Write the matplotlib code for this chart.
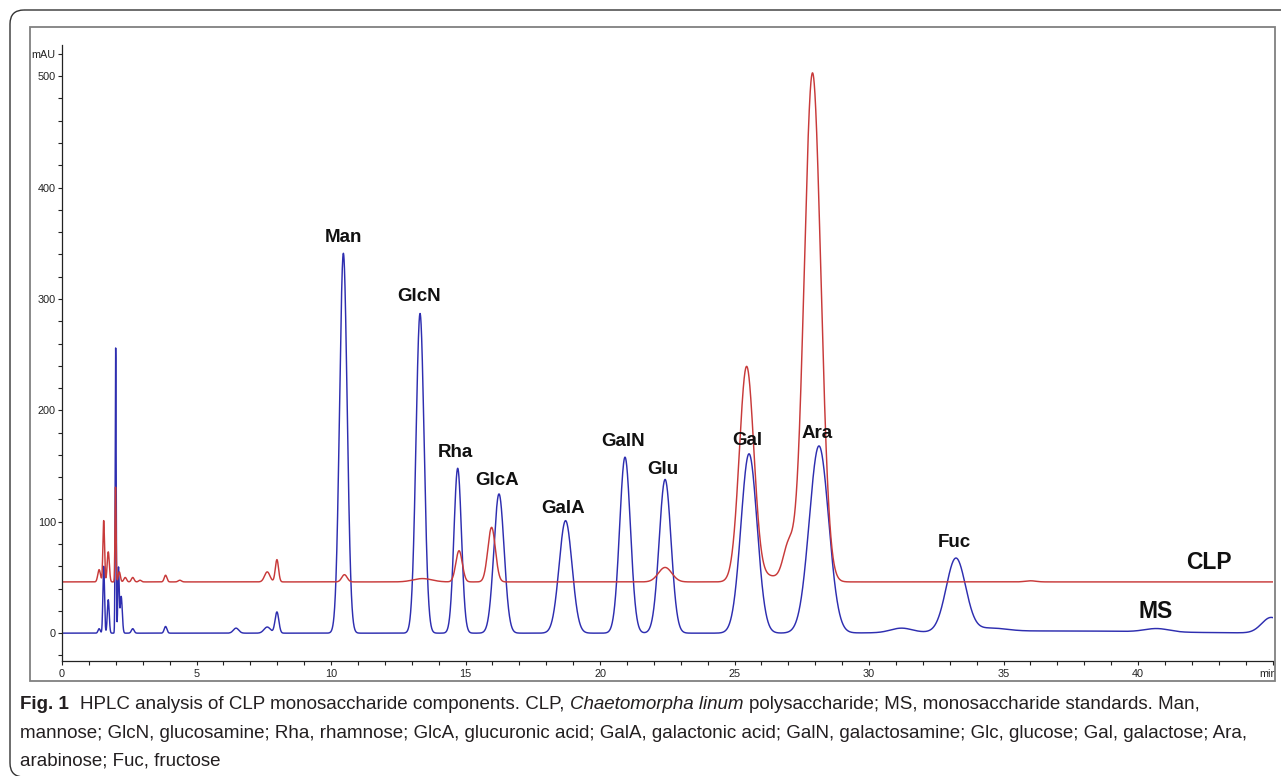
import numpy as np
import matplotlib
matplotlib.use('Agg')
import matplotlib.pyplot as plt
from matplotlib import font_manager
from matplotlib.patches import Rectangle, FancyBboxPatch
from matplotlib.transforms import Affine2D, ScaledTranslation

W, H = 1281, 776

# ---------------- data (peak tables) ----------------
# MS (monosaccharide standards) trace: retention time (min), height (mAU), width sigma (min)
ms_rt     = [1.38, 1.55, 1.72, 1.995, 2.10, 2.20, 2.63, 3.85, 6.47, 7.63, 7.99,
             10.46, 13.31, 14.71, 16.245, 18.72, 20.93, 22.42, 25.54, 28.14,
             31.2, 33.23, 34.5, 37.0, 40.7, 44.95]
ms_height = [4, 60, 30, 256, 58, 33, 4, 6, 4.5, 5.5, 19,
             341, 287, 148, 125, 101, 158, 138, 161, 168,
             4, 66, 3, 2, 3, 14]
ms_sigma  = [0.04, 0.03, 0.035, 0.018, 0.025, 0.04, 0.05, 0.05, 0.10, 0.12, 0.07,
             0.14, 0.15, 0.14, 0.19, 0.24, 0.20, 0.22, 0.30, 0.36,
             0.40, 0.36, 0.6, 3.5, 0.45, 0.35]
ms_baseline = 0.0

# CLP (Chaetomorpha linum polysaccharide) trace
clp_rt     = [1.38, 1.55, 1.72, 1.99, 2.13, 2.35, 2.63, 2.9, 3.85, 4.38, 7.63, 7.99,
              10.5, 13.4, 14.76, 15.97, 22.42, 25.45, 26.3, 27.0, 27.9, 36.0]
clp_height = [11, 55, 27, 85, 9, 4, 4, 1.5, 6, 1.5, 9, 20,
              6.5, 3, 28, 49, 13, 193, 5, 30, 457, 1]
clp_sigma  = [0.05, 0.03, 0.04, 0.02, 0.04, 0.05, 0.05, 0.05, 0.05, 0.06, 0.10, 0.06,
              0.10, 0.35, 0.12, 0.14, 0.25, 0.27, 0.40, 0.20, 0.31, 0.2]
clp_baseline = 46.0

# peak labels (name, retention time, label height in mAU)
label_names = ['Man', 'GlcN', 'Rha', 'GlcA', 'GalA', 'GalN', 'Glu', 'Gal', 'Ara', 'Fuc']
label_x     = [10.46, 13.28, 14.63, 16.16, 18.64, 20.87, 22.33, 25.49, 28.06, 33.16]
label_y     = [355, 302, 162, 137, 112, 172, 147, 173, 179, 81]

trace_names = ['CLP', 'MS']
trace_lab_x = [42.64, 40.65]
trace_lab_y = [63, 19]

x_ticks_major = [0, 5, 10, 15, 20, 25, 30, 35, 40, 45]
x_tick_labels = ['0', '5', '10', '15', '20', '25', '30', '35', '40', 'min']
y_ticks_major = [0, 100, 200, 300, 400, 500, 520]
y_tick_labels = ['0', '100', '200', '300', '400', '500', 'mAU']

caption_l1 = [("Fig. 1", 'bold'),
              ("HPLC analysis of CLP monosaccharide components. CLP,", 'normal'),
              ("Chaetomorpha linum", 'italic'),
              ("polysaccharide; MS, monosaccharide standards. Man,", 'normal')]
caption_l2 = ("mannose; GlcN, glucosamine; Rha, rhamnose; GlcA, glucuronic acid; GalA, "
              "galactonic acid; GalN, galactosamine; Glc, glucose; Gal, galactose; Ara,")
caption_l3 = "arabinose; Fuc, fructose"

# ---------------- build traces from peak tables ----------------
t = np.linspace(0, 45, 9001)

def trace(base, rts, hs, sg):
    y = np.full_like(t, base)
    for r, h, s in zip(rts, hs, sg):
        y += h * np.exp(-0.5 * ((t - r) / s) ** 2)
    return y

ms_y = trace(ms_baseline, ms_rt, ms_height, ms_sigma)
clp_y = trace(clp_baseline, clp_rt, clp_height, clp_sigma)

# ---------------- fonts ----------------
avail = {f.name for f in font_manager.fontManager.ttflist}
narrow = 'Liberation Sans Narrow' if 'Liberation Sans Narrow' in avail else 'Liberation Sans'
sans = 'Liberation Sans' if 'Liberation Sans' in avail else 'DejaVu Sans'

fig = plt.figure(figsize=(W / 100, H / 100), dpi=100)
fig.patch.set_facecolor('white')
pxT = Affine2D().scale(1.0 / W, -1.0 / H).translate(0, 1) + fig.transFigure

# outer rounded frame
outer = FancyBboxPatch((10, 10), 1300, 767, boxstyle="round,pad=0,rounding_size=14",
                       transform=pxT, fill=False, edgecolor='#333333', lw=1.0)
fig.patches.append(outer)
# inner chart frame
inner = Rectangle((30, 27), 1245, 654, transform=pxT, fill=False,
                  edgecolor='#808080', lw=1.3)
fig.patches.append(inner)

ax = fig.add_axes([62 / W, 1 - 661 / H, (1272.5 - 62) / W, (661 - 45) / H])
ax.set_xlim(0, 45)
ax.set_ylim(-25, 528)
ax.patch.set_alpha(0)

ax.plot(t, ms_y, color='#2e2eb0', lw=1.05)
ax.plot(t, clp_y, color='#c83a3a', lw=1.05)

for s in ['top', 'right']:
    ax.spines[s].set_visible(False)
for s in ['left', 'bottom']:
    ax.spines[s].set_linewidth(0.9)
    ax.spines[s].set_color('#222222')

ax.set_xticks(x_ticks_major)
ax.set_xticklabels(x_tick_labels)
ax.set_xticks(np.arange(0, 46, 1), minor=True)
ax.set_yticks(y_ticks_major)
ax.set_yticklabels(y_tick_labels)
ax.set_yticks(np.arange(-20, 521, 20), minor=True)
ax.tick_params(which='both', direction='out', length=3.2, width=0.8, color='#222222')
ax.tick_params(axis='x', which='both', pad=2.5, labelsize=7.8)
ax.tick_params(axis='y', which='both', pad=1.2, labelsize=7.8)
for lbl in ax.get_xticklabels() + ax.get_yticklabels():
    lbl.set_fontfamily(narrow)
    lbl.set_color('#222222')
    lbl.set_clip_on(True)
    lbl.set_clip_path(inner)
last = ax.get_xticklabels()[-1]
last.set_transform(last.get_transform() + ScaledTranslation(-4 / 100, 0, fig.dpi_scale_trans))

for n, x, y in zip(label_names, label_x, label_y):
    ax.text(x, y, n, ha='center', va='center', fontsize=13.5, fontweight='bold',
            family=sans, color='#111111')
for n, x, y in zip(trace_names, trace_lab_x, trace_lab_y):
    ax.text(x, y, n, ha='center', va='center', fontsize=16.5, fontweight='bold',
            family=sans, color='#111111')

# ---------------- caption ----------------
fig.canvas.draw()
renderer = fig.canvas.get_renderer()

def wpx(s, size, weight='normal', style='normal'):
    tt = fig.text(0, 0, s, fontsize=size, family=narrow, fontweight=weight, fontstyle=style)
    w = tt.get_window_extent(renderer).width
    tt.remove()
    return w

base_size = 10.0
w2 = wpx(caption_l2, base_size)
cap_size = base_size * (1249 - 20) / w2
space = wpx("x x", cap_size) - wpx("xx", cap_size)

x0 = 20
yl = [709, 738, 766]
x = x0
for i, (s, style) in enumerate(caption_l1):
    weight = 'bold' if style == 'bold' else 'normal'
    fst = 'italic' if style == 'italic' else 'normal'
    fig.text(x, yl[0], s, transform=pxT, fontsize=cap_size, family=narrow,
             fontweight=weight, fontstyle=fst, color='#231f20', va='baseline')
    x += wpx(s, cap_size, weight, fst)
    x += space * (2.2 if i == 0 else 1.0)
fig.text(x0, yl[1], caption_l2, transform=pxT, fontsize=cap_size, family=narrow,
         color='#231f20', va='baseline')
fig.text(x0, yl[2], caption_l3, transform=pxT, fontsize=cap_size, family=narrow,
         color='#231f20', va='baseline')

fig.savefig('out.png', dpi=100, facecolor='white')
